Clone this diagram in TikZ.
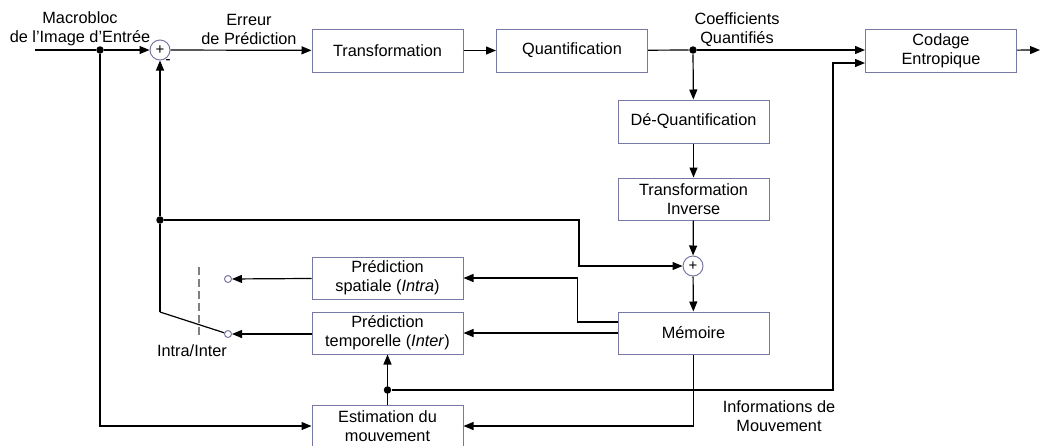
\documentclass[tikz,border=0pt]{standalone}
\usepackage{fontspec}
\setmainfont{Liberation Sans}
\usetikzlibrary{arrows.meta}
\definecolor{boxline}{RGB}{120,120,165}

\begin{document}
\begin{tikzpicture}[>={Triangle[length=10pt,width=8pt]}, x=1pt, y=-1pt, line width=1.2pt,
    blk/.style={draw=boxline, line width=1pt, minimum width=151pt, minimum height=43pt, inner sep=0pt, align=center, font=\fontsize{16.3}{19}\selectfont},
    sumnode/.style={circle, draw=boxline, line width=1pt, minimum size=20pt, inner sep=0pt, font=\fontsize{15}{15}\selectfont},
    dot/.style={circle, fill=black, inner sep=0pt, minimum size=7.5pt},
    contact/.style={circle, draw=boxline, line width=1pt, fill=white, inner sep=0pt, minimum size=7pt},
    txt/.style={align=center, inner sep=0pt, font=\fontsize{16.3}{19}\selectfont}]

                  \useasboundingbox (0,0) rectangle (1040,445);

                  \draw (387.5,50.5) node[blk] (trans) {Transformation};
                  \draw (572,50.5) node[blk] (quant) {Quantification};
                  \draw (941,50.5) node[blk] (codage) {Codage\\Entropique};
                  \draw (693.5,121.5) node[blk] (deq) {Dé-Quantification};
                  \draw (693.5,199) node[blk, minimum height=42pt] (tinv) {Transformation\\Inverse};
                  \draw (693.5,333) node[blk, minimum height=42pt] (mem) {Mémoire};
                  \draw (387.5,278) node[blk, minimum height=42pt] (spat) {Prédiction\\spatiale (\textit{Intra})};
                  \draw (387.5,333) node[blk, minimum height=42pt] (temp) {Prédiction\\temporelle (\textit{Inter})};
                  \draw (387.5,426) node[blk, minimum height=41pt] (estim) {Estimation du\\mouvement};

                  \draw (160,50) node[sumnode] (s1) {+};
                  \draw (693,266) node[sumnode] (s2) {+};
                  \draw (168,62) node[txt] (minus) {-};

                  \draw (100,50) node[dot] (j1) {};
                  \draw (693,50) node[dot] (j2) {};
                  \draw (160,220) node[dot] (j3) {};
                  \draw (387.5,390) node[dot] (j4) {};
                  \draw (228,279) node[contact] (ci) {};
                  \draw (228,334) node[contact] (ct) {};

                  \coordinate (in) at (35,50);
                  \coordinate (out) at (1040,50);
                  \coordinate (sw) at (160,312);
                  \coordinate (k1) at (579,220);
                  \coordinate (k2) at (833,390);

                  \draw (80,29) node[txt] (lbin) {Macrobloc\\de l’Image d’Entrée};
                  \draw (249,29) node[txt] (lberr) {Erreur\\de Prédiction};
                  \draw (737,30) node[txt] (lbcoef) {Coefficients\\Quantifiés};
                  \draw (192,351) node[txt] (lbsw) {Intra/Inter};
                  \draw (779,416) node[txt] (lbmv) {Informations de\\Mouvement};

                  \draw (in) -- (j1);
                  \draw [->] (j1) -- (s1);
                  \draw [->] (s1) -- (trans);
                  \draw [->] (trans) -- (quant);
                  \draw (quant) -- (j2);
                  \draw [->] (j2) -- (j2 -| codage.west);
                  \draw [->] (codage) -- (out);
                  \draw [->] (j2) -- (deq);
                  \draw [->] (deq) -- (tinv);
                  \draw [->] (tinv) -- (s2);
                  \draw [->] (s2) -- (mem);

                  \draw [->] (sw) -- (j3) -- (s1);
                  \draw (sw) -- (ct);
                  \draw [gray, line width=1.2pt, dash pattern=on 8pt off 4pt] (199,267) -- (199,337);
                  \draw [->] (spat) -- (ci);
                  \draw [->] (temp.west |- ct) -- (ct);

                  \draw [->] (j3) -- (k1) |- (s2);
                  \draw [->] ([yshift=11pt]mem.west) -- ++(-40,0) |- (spat);
                  \draw [->] (mem) -- (temp);
                  \draw [->] (mem.south) |- (estim);
                  \draw [->] (j1) |- (estim);
                  \draw [->] (estim) -- (temp);
                  \draw [->] (j4) -- (k2) |- ([yshift=-12.5pt]codage.west);

                \end{tikzpicture}
\end{document}
